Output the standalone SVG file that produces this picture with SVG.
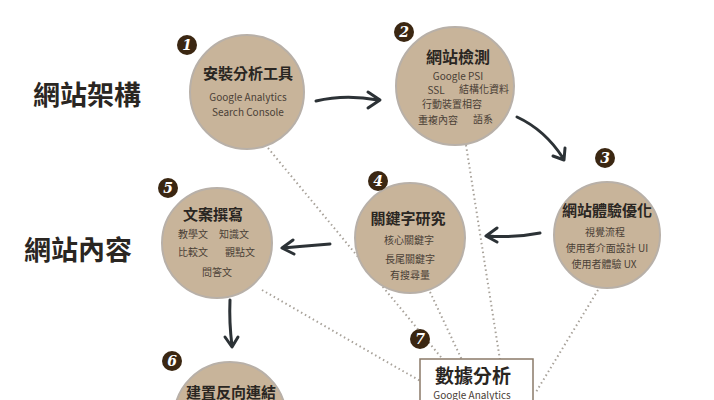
<svg xmlns="http://www.w3.org/2000/svg" width="714" height="400" viewBox="0 0 714 400">
<style>
.c{fill:#c8b49a;stroke:#b8b0a8;stroke-width:2}
.t{font-family:"Noto Sans CJK TC","Noto Sans",sans-serif;fill:#2a2622;text-anchor:middle}
.h{font-size:15px;font-weight:bold}
.s{font-size:10px;fill:#4a4036}
.b{fill:#3b2712}
.n{font-family:"DejaVu Serif",serif;font-size:14px;font-weight:bold;fill:#fff;text-anchor:middle;font-style:italic}
.d{stroke:#a8a29a;stroke-width:2;stroke-dasharray:1.5 3;fill:none}
.a{stroke:#2c3236;stroke-width:3;fill:none;stroke-linecap:round;stroke-linejoin:round}
</style>
<rect width="714" height="400" fill="#fff"/>
<g id="connectors">
<path class="d" d="M268 148 L445 362"/>
<path class="d" d="M466 145 L500 360"/>
<path class="d" d="M262 290 L422 382"/>
<path class="d" d="M430 292 L462 360"/>
<path class="d" d="M598 290 L536 392"/>
<path class="a" d="M316 101 Q345 94 378 100 M368 92 L380 100 L368 108"/>
<path class="a" d="M517 117 Q545 130 563 158 M553 156 L564 160 L565 148"/>
<path class="a" d="M540 233 Q515 238 487 236 M497 228 L486 236 L497 242"/>
<path class="a" d="M330 244 Q305 246 283 248 M293 240 L282 248 L294 254"/>
<path class="a" d="M230 300 Q229 322 232 346 M225 337 L232 347 L238 337"/>
</g>
<text class="t" x="87" y="105" style="font-size:27px;font-weight:bold">網站架構</text>
<text class="t" x="78" y="260" style="font-size:27px;font-weight:bold">網站內容</text>
<g id="n1"><circle class="c" cx="247" cy="92" r="57"/>
<text class="t h" x="248" y="79">安裝分析工具</text>
<text class="t s" x="248" y="101">Google Analytics</text>
<text class="t s" x="248" y="116">Search Console</text>
<circle class="b" cx="187" cy="45" r="10"/><text class="n" x="187" y="50">1</text></g>
<g id="n2"><circle class="c" cx="455" cy="86" r="59"/>
<text class="t h" x="458" y="63" style="font-size:16px">網站檢測</text>
<text class="t s" x="458" y="80">Google PSI</text>
<text class="t s" x="436" y="94">SSL</text><text class="t s" x="484" y="93">結構化資料</text>
<text class="t s" x="452" y="108">行動裝置相容</text>
<text class="t s" x="438" y="124">重複內容</text><text class="t s" x="483" y="123">語系</text>
<circle class="b" cx="404" cy="32" r="10"/><text class="n" x="404" y="37">2</text></g>
<g id="n3"><circle class="c" cx="607" cy="235" r="53"/>
<text class="t h" x="607" y="216">網站體驗優化</text>
<text class="t s" x="605" y="236">視覺流程</text>
<text class="t s" x="607" y="252">使用者介面設計 UI</text>
<text class="t s" x="604" y="268">使用者體驗 UX</text>
<circle class="b" cx="605" cy="158" r="10"/><text class="n" x="605" y="163">3</text></g>
<g id="n4"><circle class="c" cx="410" cy="238" r="55"/>
<text class="t h" x="408" y="224">關鍵字研究</text>
<text class="t s" x="409" y="244">核心關鍵字</text>
<text class="t s" x="410" y="263">長尾關鍵字</text>
<text class="t s" x="410" y="279">有搜尋量</text>
<circle class="b" cx="378" cy="181" r="10"/><text class="n" x="378" y="186">4</text></g>
<g id="n5"><circle class="c" cx="217" cy="243" r="55"/>
<text class="t h" x="213" y="220">文案撰寫</text>
<text class="t s" x="193" y="238">教學文</text><text class="t s" x="234" y="238">知識文</text>
<text class="t s" x="193" y="256">比較文</text><text class="t s" x="240" y="256">觀點文</text>
<text class="t s" x="217" y="276">問答文</text>
<circle class="b" cx="168" cy="188" r="10"/><text class="n" x="168" y="193">5</text></g>
<g id="n6"><circle class="c" cx="230" cy="418" r="56"/>
<text class="t h" x="231" y="398" style="font-size:15px">建置反向連結</text>
<circle class="b" cx="172" cy="361" r="10"/><text class="n" x="172" y="366">6</text></g>
<g id="n7"><rect x="420" y="359" width="113" height="50" fill="#fff" stroke="#8a7a68" stroke-width="1.5"/>
<text class="t" x="473" y="383" style="font-size:19px;font-weight:bold">數據分析</text>
<text class="t s" x="472" y="399">Google Analytics</text>
<circle class="b" cx="420" cy="339" r="10"/><text class="n" x="420" y="344">7</text></g>
</svg>
